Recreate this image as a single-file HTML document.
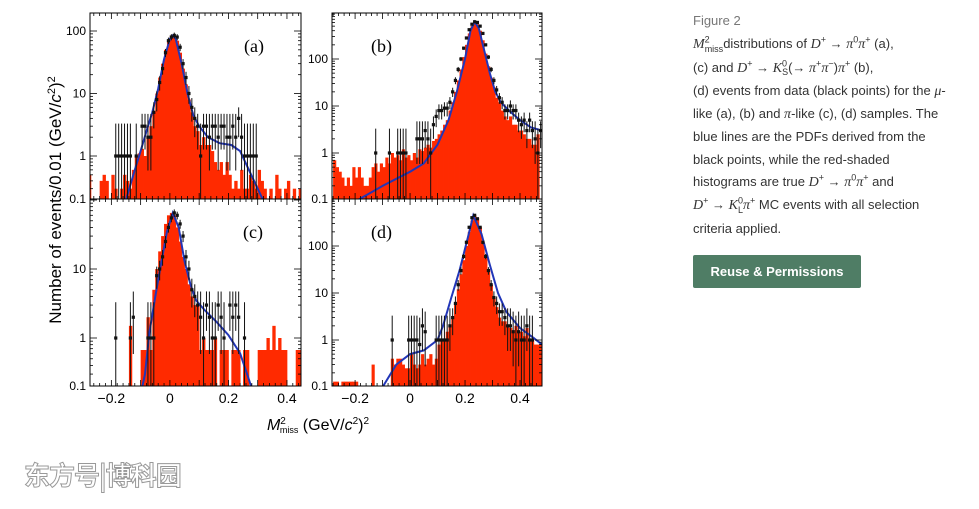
<!DOCTYPE html>
<html><head><meta charset="utf-8"><style>
html,body{margin:0;padding:0;background:#fff;width:979px;height:509px;overflow:hidden}
svg{position:absolute;left:0;top:0}
.cap{position:absolute;left:693px;top:10px;width:280px;font-family:"Liberation Sans",sans-serif;font-size:13px;line-height:22.3px;color:#333}
.cap i{font-family:"Liberation Serif",serif;font-size:14px}
.cap sup,.cap sub{line-height:0;font-size:9px}
.fig{color:#777;font-size:13px;margin-bottom:1px}
.btn{position:absolute;left:693px;top:255px;width:168px;height:33px;background:#4f7d65;color:#fff;font-family:"Liberation Sans",sans-serif;font-weight:bold;font-size:13px;line-height:33px;text-align:center;border-radius:2px}
.wm{position:absolute;left:24px;top:456px;font-family:"Noto Sans CJK SC",sans-serif;font-size:26px;font-weight:bold;color:#fff;-webkit-text-stroke:1px #999;letter-spacing:-1px}
</style></head><body>
<svg id="chart" width="979" height="509" xmlns="http://www.w3.org/2000/svg"></svg>
<div class="cap">
<div class="fig">Figure 2</div>
<i>M</i><sup>2</sup><sub style="margin-left:-5px">miss</sub>distributions of <i>D</i><sup>+</sup> → <i>π</i><sup>0</sup><i>π</i><sup>+</sup> (a),<br>
(c) and <i>D</i><sup>+</sup> → <i>K</i><sup>0</sup><sub style="margin-left:-5px">S</sub>(→ <i>π</i><sup>+</sup><i>π</i><sup>−</sup>)<i>π</i><sup>+</sup> (b),<br>
(d) events from data (black points) for the <i>μ</i>-<br>like (a), (b) and <i>π</i>-like (c), (d) samples. The<br>blue lines are the PDFs derived from the<br>black points, while the red-shaded<br>histograms are true <i>D</i><sup>+</sup> → <i>π</i><sup>0</sup><i>π</i><sup>+</sup> and<br>
<i>D</i><sup>+</sup> → <i>K</i><sup>0</sup><sub style="margin-left:-5px">L</sub><i>π</i><sup>+</sup> MC events with all selection<br>criteria applied.
</div>
<div class="btn">Reuse &amp; Permissions</div>
<div class="wm">东方号|博科园</div>
<script>
const binStartA=-0.28;
const redA=[0.5,0,0,0,0.4,0.5,0.4,0.2,0.5,0.3,0.2,0.3,0.5,0.4,0.3,0.6,1.0,1.1,1.3,1.0,2.0,3,5,10,18,30,50,70,85,85,70,45,25,14,8,5,3,2.5,1.5,2,1.5,1.5,1.2,0.8,0.6,0.8,0.5,0.8,0.5,0.3,0.4,0.3,0.6,0.3,0.3,0.5,0.4,0.3,0.6,0.4,0.3,0.2,0.3,0.2,0.5,0.3,0.2,0.3,0.4,0.2,0.3,0.2,0.3];
const ptStartA=-0.19;
const ptsA=[1,1,1,1,1,1,0,1,0,3,3,2,2,5,8,15,25,45,70,80,85,80,55,30,18,10,6,4,3,1,3,3,2,3,3,2,3,3,2,2,3,2,4,2,1,1,1,1,1];
const blueXA=[-0.19,-0.15,-0.12,-0.10,-0.08,-0.06,-0.04,-0.02,0,0.01,0.02,0.04,0.06,0.08,0.10,0.13,0.17,0.21,0.24,0.27,0.30,0.33,0.35];
const blueYA=[0.1,0.2,0.6,1.2,2.5,5,12,35,75,85,75,30,10,4.5,3,2,1.6,1.5,1.2,0.6,0.3,0.15,0.1];

const binStartB=-0.28;
const redB=[0.7,0.5,0.4,0.3,0.2,0.3,0.2,0.5,0.3,0.5,0.3,0.2,0.2,0.3,0.5,0.6,0.4,0.6,0.5,0.8,0.6,1.0,0.8,0.9,0.7,1.2,0.8,0.9,0.7,1.0,0.8,1.2,1.1,1.3,1.5,1.3,1.8,2,2.5,3,4,5,8,12,20,35,60,110,200,350,500,600,550,400,250,130,70,40,25,15,12,8,6,5,6,4,4,3,3,2.5,2,2,1.5,1.5,2.5];
const ptStartB=-0.13;
const ptsB=[1,0,0,0,0,1,0,0,1,1,1,1,0,0,0,2,2,2,3,2,1,4,6,8,8,9,9,12,20,35,60,100,170,280,420,550,620,600,500,350,200,110,60,35,22,15,12,8,8,10,8,8,5,4,5,3,5,3,2,1,3];
const blueXB=[-0.19,-0.1,0,0.05,0.1,0.14,0.17,0.2,0.22,0.235,0.25,0.27,0.29,0.31,0.33,0.36,0.40,0.44,0.48];
const blueYB=[0.1,0.2,0.4,0.6,1.5,5,20,100,400,620,450,150,50,20,12,8,5,3.5,3];

const binStartC=-0.27;
const redC=[0,0,0,0,0,0,0,0,0,0,0,0,0,1.5,0,0,0,0.67,0.67,2,0.67,5,10,18,30,45,60,65,60,40,25,15,10,6,4,3,3,0.67,1,0.67,0.67,0.67,1,0,0.67,0.67,0.67,0,0.67,0.67,0.67,0,0.67,0.67,0,0,0,0.67,0.67,0.67,1,0.67,1.5,0.67,1,0.67,0.67,0,0,0,0.67,0.67];
const ptStartC=-0.19;
const ptsC=[1,0,0,0,0,1,2,0,0,0,0,1,1,1,8,10,15,25,40,55,65,60,45,30,15,10,5,4,3,2,1,3,2,1,1,3,2,1,0,3,2,3,2,0,1];
const blueXC=[-0.15,-0.1,-0.085,-0.07,-0.05,-0.03,-0.01,0.01,0.03,0.05,0.07,0.09,0.12,0.16,0.2,0.24,0.27,0.30];
const blueYC=[0.1,0.15,0.3,1.2,4,12,35,65,40,13,6,3.5,2.5,1.7,1.1,0.6,0.25,0.1];

const binStartD=-0.28;
const redD=[0.13,0.13,0,0.13,0.13,0.13,0.13,0.13,0.13,0,0,0,0,0,0.3,0,0,0,0,0,0,0.4,0.3,0.4,0.4,0.3,0.25,0.25,0.5,0.3,0.25,0.3,0.5,0.3,0.4,0.5,0.3,0.4,0.8,1,1,1.5,2,3,6,12,25,50,100,200,350,450,400,250,120,60,30,15,8,5,3,2.5,2.5,2,1.8,1.5,2,1.5,1.5,1.2,1.8,1,1,0.8,0.8,0.8];
const ptStartD=-0.07;
const ptsD=[1,0,0,0,0,0,1,1,1,1,0.8,2,1.5,0,0,0,1,1,1,1,1,2,3,6,15,30,60,120,250,400,450,380,250,120,60,30,15,8,6,4,4,3,2,2,1.5,1,1.5,1,1,2,1,1];
const blueXD=[-0.1,-0.05,0,0.05,0.1,0.12,0.15,0.18,0.21,0.23,0.26,0.29,0.32,0.35,0.4,0.45,0.48];
const blueYD=[0.1,0.3,0.5,0.6,1,2,8,30,150,450,180,40,10,4,1.8,1.1,0.8];

const xTicks=[-0.2,0,0.2,0.4];
const xTickLabels=["−0.2","0","0.2","0.4"];

const NS="http://www.w3.org/2000/svg";
const svg=document.getElementById('chart');
function mk(t,a,p){const e=document.createElementNS(NS,t);for(const k in a)e.setAttribute(k,a[k]);(p||svg).appendChild(e);return e;}

const panels=[
 {id:'a',x0:90,x1:301,top:13,bot:199,d0:-0.273,d1:0.448,y1:156,dec:62.5,yt:[100,10,1],red:redA,rs:binStartA,pts:ptsA,ps:ptStartA,bx:blueXA,by:blueYA,lx:244,ly:52,xl:false},
 {id:'b',x0:332,x1:542,top:13,bot:199,d0:-0.284,d1:0.48,y1:153,dec:47,yt:[100,10,1],red:redB,rs:binStartB,pts:ptsB,ps:ptStartB,bx:blueXB,by:blueYB,lx:371,ly:52,xl:false},
 {id:'c',x0:90,x1:301,top:199,bot:386,d0:-0.273,d1:0.448,y1:338,dec:69,yt:[10,1],red:redC,rs:binStartC,pts:ptsC,ps:ptStartC,bx:blueXC,by:blueYC,lx:243,ly:238,xl:true},
 {id:'d',x0:332,x1:542,top:199,bot:386,d0:-0.284,d1:0.48,y1:340,dec:47,yt:[100,10,1],red:redD,rs:binStartD,pts:ptsD,ps:ptStartD,bx:blueXD,by:blueYD,lx:371,ly:238,xl:true}
];

panels.forEach(P=>{
  const X=v=>P.x0+(v-P.d0)/(P.d1-P.d0)*(P.x1-P.x0);
  const Y=v=>P.y1-Math.log10(v)*P.dec;
  const g=mk('g',{});
  
  
  const cp=mk('clipPath',{id:'clip'+P.id},g);
  mk('rect',{x:P.x0,y:P.top,width:P.x1-P.x0,height:P.bot-P.top},cp);
  const inner=mk('g',{'clip-path':'url(#clip'+P.id+')'},g);
  P.red.forEach((v,i)=>{
    if(v<=0)return;
    const xa=X(P.rs+i*0.01),xb=X(P.rs+(i+1)*0.01);
    const r=mk('rect',{x:xa,y:Y(v),width:xb-xa+0.4,height:Math.max(0,P.bot-Y(v)),fill:'#ff2a00'},inner);
    
    
  });
  let d='';
  P.bx.forEach((v,i)=>{d+=(i?'L':'M')+X(v).toFixed(1)+' '+Y(P.by[i]).toFixed(1);});
  const pl=mk('path',{d:d,fill:'none',stroke:'#2236b8','stroke-width':2},inner);
  
  
  P.pts.forEach((v,i)=>{
    if(v<=0)return;
    const cx=X(P.ps+i*0.01+0.005);
    const s=Math.sqrt(v);
    const hi=v+s+(v<3?1.3:0);
    const lo=v-s;
    const yl=lo>0.02?Y(lo):P.bot;
    const eb=mk('line',{x1:cx,x2:cx,y1:Y(hi),y2:yl,stroke:'#111','stroke-width':1},inner);
    
    
    const pt=mk('rect',{x:cx-1.6,y:Y(v)-1.6,width:3.2,height:3.2,fill:'#111'},inner);
    
    
  });
  mk('rect',{x:P.x0,y:P.top,width:P.x1-P.x0,height:P.bot-P.top,fill:'none',stroke:'#000','stroke-width':1},g);
  for(let k=-14;k<=25;k++){
    const v=k*0.02; if(v<P.d0||v>P.d1)continue;
    const big=Math.abs(k%5)===0;
    const xx=X(v);
    mk('line',{x1:xx,x2:xx,y1:P.bot,y2:P.bot-(big?6:3),stroke:'#000','stroke-width':0.8},g);
    mk('line',{x1:xx,x2:xx,y1:P.top,y2:P.top+(big?6:3),stroke:'#000','stroke-width':0.8},g);
  }
  for(let e=-1;e<=3;e++)for(let m=1;m<=9;m++){
    const v=m*Math.pow(10,e);const yy=Y(v);
    if(yy<P.top||yy>P.bot)continue;
    const L=m===1?7:3;
    mk('line',{x1:P.x0,x2:P.x0+L,y1:yy,y2:yy,stroke:'#000','stroke-width':0.8},g);
    mk('line',{x1:P.x1,x2:P.x1-L,y1:yy,y2:yy,stroke:'#000','stroke-width':0.8},g);
  }
  P.yt.forEach(v=>{
    const t=mk('text',{x:P.x0-4,y:Y(v)+4,'text-anchor':'end','font-family':'Liberation Sans, sans-serif','font-size':12},g);
    t.textContent=v;
    
    
  });
  const t0=mk('text',{x:P.x0-4,y:P.bot+4,'text-anchor':'end','font-family':'Liberation Sans, sans-serif','font-size':12},g);
  t0.textContent='0.1';
  
  
  if(P.xl){
    xTicks.forEach((v,i)=>{
      const t=mk('text',{x:X(v),y:P.bot+17,'text-anchor':'middle','font-family':'Liberation Sans, sans-serif','font-size':14},g);
      t.textContent=xTickLabels[i];
      
      
    });
  }
  const lb=mk('text',{x:P.lx,y:P.ly,'font-family':'Liberation Serif, serif','font-size':18},g);
  lb.textContent='('+P.id+')';
  
  
});
const yt=mk('text',{transform:'translate(61,200) rotate(-90)','text-anchor':'middle','font-family':'Liberation Sans, sans-serif','font-size':17});
yt.innerHTML='Number of events/0.01 (GeV/<tspan font-style="italic">c</tspan><tspan dy="-6" font-size="11">2</tspan><tspan dy="6">)</tspan><tspan dy="-6" font-size="11">2</tspan>';


const xt=mk('text',{x:318,y:430,'text-anchor':'middle','font-family':'Liberation Sans, sans-serif','font-size':16});
xt.innerHTML='<tspan font-style="italic">M</tspan><tspan dy="-6" font-size="10">2</tspan><tspan dx="-6" dy="9" font-size="9">miss</tspan><tspan dy="-3"> (GeV/</tspan><tspan font-style="italic">c</tspan><tspan dy="-6" font-size="10">2</tspan><tspan dy="6">)</tspan><tspan dy="-6" font-size="10">2</tspan>';


</script>
</body></html>
